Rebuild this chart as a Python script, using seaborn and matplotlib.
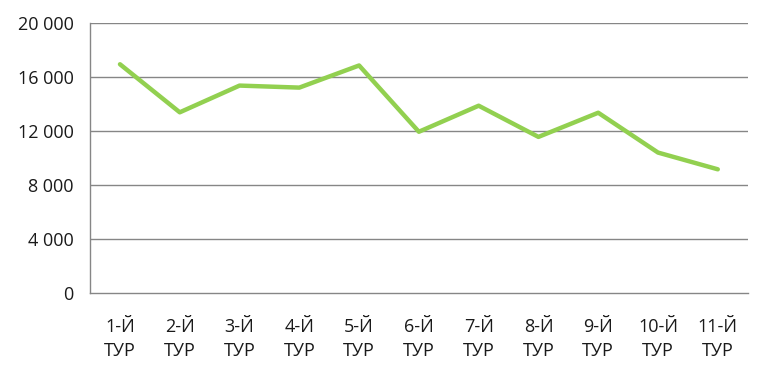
import matplotlib
matplotlib.use('Agg')
import matplotlib.pyplot as plt
import seaborn as sns
import pandas as pd
from matplotlib.ticker import FuncFormatter, FixedLocator

# данные по турам
tours = ['1-Й\nТУР', '2-Й\nТУР', '3-Й\nТУР', '4-Й\nТУР', '5-Й\nТУР', '6-Й\nТУР',
         '7-Й\nТУР', '8-Й\nТУР', '9-Й\nТУР', '10-Й\nТУР', '11-Й\nТУР']
values = [16950, 13390, 15370, 15220, 16860, 11950, 13880, 11570, 13360, 10410, 9170]
y_ticks = [0, 4000, 8000, 12000, 16000, 20000]

sns.set_theme(style='white')
plt.rcParams['font.family'] = ['Open Sans', 'DejaVu Sans']

df = pd.DataFrame({'tour': range(len(tours)), 'value': values})

fig = plt.figure(figsize=(7.7, 3.72), dpi=100)
ax = fig.add_axes([0.117, 0.212, 0.854, 0.726])

sns.lineplot(data=df, x='tour', y='value', ax=ax, color='#92D050', linewidth=3.2)

grid_c = '#868686'
ax.set_ylim(0, 20000)
ax.set_xlim(-0.5, len(tours) - 0.5)
ax.set_yticks(y_ticks)
ax.yaxis.set_major_formatter(FuncFormatter(lambda v, p: f'{int(v):,}'.replace(',', ' ')))
for t in y_ticks[1:]:
    ax.axhline(t, color=grid_c, linewidth=1, zorder=0)

ax.set_xticks(range(len(tours)))
ax.set_xticklabels(tours, fontsize=13, linespacing=1.45, color='#1a1a1a')
ax.tick_params(axis='x', length=0, pad=18)
ax.xaxis.set_minor_locator(FixedLocator([i - 0.5 for i in range(len(tours) + 1)]))
ax.tick_params(axis='x', which='minor', length=6, color=grid_c, width=1, direction='out')
ax.tick_params(axis='y', length=7, color=grid_c, width=1, direction='out',
               labelsize=13, labelcolor='#1a1a1a', pad=5)

for s in ['top', 'right']:
    ax.spines[s].set_visible(False)
for s in ['left', 'bottom']:
    ax.spines[s].set_color(grid_c)
    ax.spines[s].set_linewidth(1)

ax.set_xlabel('')
ax.set_ylabel('')
fig.savefig('out.png', dpi=100)
